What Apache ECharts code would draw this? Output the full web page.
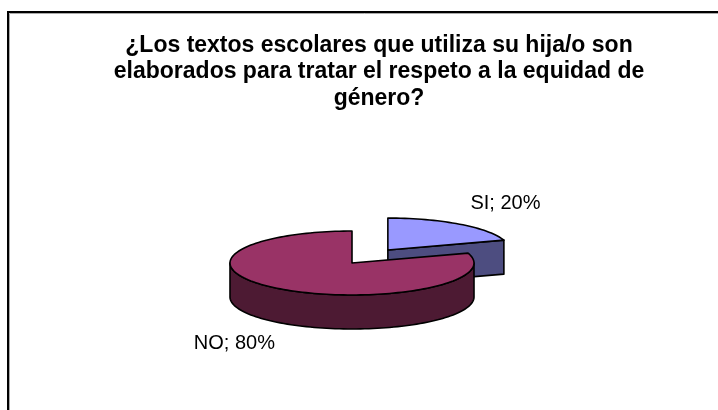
<!DOCTYPE html>
<html>
<head>
<meta charset="utf-8">
<script src="https://cdn.jsdelivr.net/npm/echarts@6/dist/echarts.min.js"></script>
<style>
  html, body { margin: 0; padding: 0; background: #fff; }
  #chart { width: 718px; height: 410px; }
</style>
</head>
<body>
<div id="chart"></div>
<script>
// data
const categories = ['SI', 'NO'];
const values = [20, 80];
const titleLines = [
  '¿Los textos escolares que utiliza su hija/o son',
  'elaborados para tratar el respeto a la equidad de',
  'género?'
];

// 3d pie look (Excel style)
const topColors = ['#9999FF', '#993366'];
const sideColors = ['#4D4D80', '#4D1A33'];
const CX = 352, CY = 263, RX = 122, RY = 32, DEPTH = 34;
const EXPLODE = { SI: 61 };

const total = values.reduce((a, b) => a + b, 0);

function pt(cx, cy, a, dy) {
  const r = a * Math.PI / 180;
  return [cx + RX * Math.cos(r), cy - RY * Math.sin(r) + (dy || 0)];
}

function arc(cx, cy, from, to, dy) {
  const pts = [];
  const n = Math.max(2, Math.ceil(Math.abs(to - from) / 2));
  for (let i = 0; i <= n; i++) {
    pts.push(pt(cx, cy, from + (to - from) * i / n, dy));
  }
  return pts;
}

function renderItem(params, api) {
  const idx = params.dataIndex;
  const val = api.value(0);
  let before = 0;
  for (let i = 0; i < idx; i++) before += values[i];
  const s = 90 - 360 * before / total;      // start angle, going clockwise
  const e = s - 360 * val / total;          // end angle
  const mid = (s + e) / 2;
  const name = categories[idx];
  const off = EXPLODE[name] || 0;
  const m = mid * Math.PI / 180;
  const cx = CX + off * Math.cos(m);
  const cy = CY - off * Math.sin(m) * RY / RX;

  const stroke = { stroke: '#000', lineWidth: 1.6, lineJoin: 'round' };
  const children = [];

  // radial faces that look toward the viewer
  [[e, Math.cos(e * Math.PI / 180) > 1e-6], [s, Math.cos(s * Math.PI / 180) < -1e-6]].forEach(([a, vis]) => {
    if (!vis) return;
    const p = pt(cx, cy, a);
    children.push({
      type: 'polygon',
      shape: { points: [[cx, cy], p, [p[0], p[1] + DEPTH], [cx, cy + DEPTH]] },
      style: Object.assign({ fill: sideColors[idx] }, stroke)
    });
  });

  // outer wall on the front half
  for (let k = -2; k <= 1; k++) {
    const lo = Math.max(e, 180 + 360 * k);
    const hi = Math.min(s, 360 + 360 * k);
    if (lo < hi) {
      const pts = arc(cx, cy, hi, lo).concat(arc(cx, cy, lo, hi, DEPTH));
      children.push({
        type: 'polygon',
        shape: { points: pts },
        style: Object.assign({ fill: sideColors[idx] }, stroke)
      });
    }
  }

  // top
  children.push({
    type: 'polygon',
    shape: { points: [[cx, cy]].concat(arc(cx, cy, s, e)) },
    style: Object.assign({ fill: topColors[idx] }, stroke)
  });

  // label
  const down = Math.sin(m) < 0 ? DEPTH : 0;
  children.push({
    type: 'text',
    x: cx + 200 * Math.cos(m),
    y: cy - 57 * Math.sin(m) + down,
    style: {
      text: name + '; ' + Math.round(val / total * 100) + '%',
      fill: '#000',
      font: '20px "Liberation Sans", Arial, sans-serif',
      align: 'center',
      verticalAlign: 'middle'
    }
  });

  return { type: 'group', children };
}

const chart = echarts.init(document.getElementById('chart'));
chart.setOption({
  backgroundColor: '#fff',
  animation: false,
  title: {
    text: titleLines.join('\n'),
    left: 374,
    textAlign: 'center',
    top: 27,
    textStyle: {
      fontFamily: '"Liberation Sans", Arial, sans-serif',
      fontWeight: 'bold',
      fontSize: 23,
      lineHeight: 26.5,
      color: '#000'
    }
  },
  graphic: [
    { type: 'rect', shape: { x: 8, y: 12, width: 730, height: 420 }, style: { fill: 'none', stroke: '#000', lineWidth: 2 }, silent: true },
    { type: 'polyline', shape: { points: [[9.5, 420], [9.5, 13.5], [720, 13.5]] }, style: { stroke: '#aaa', lineWidth: 1 }, silent: true }
  ],
  series: [{
    type: 'custom',
    coordinateSystem: 'none',
    renderItem,
    data: values.map((v, i) => ({ name: categories[i], value: v }))
  }]
});
</script>
</body>
</html>
